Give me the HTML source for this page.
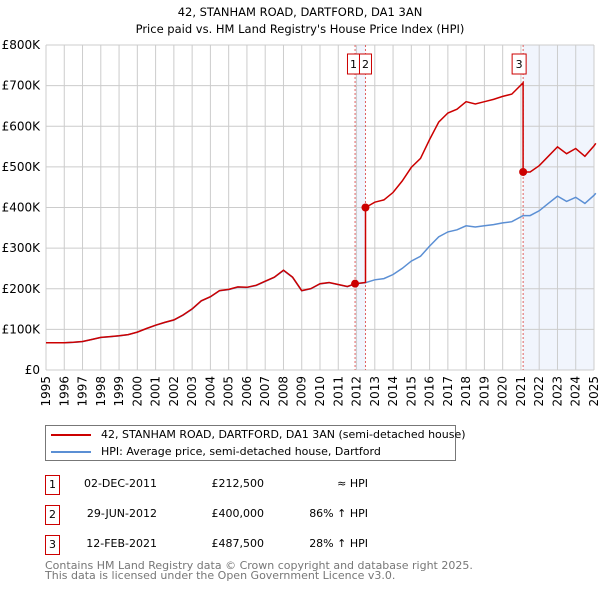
<!DOCTYPE html>
<html><head><meta charset="utf-8"><style>
body{margin:0;background:#fff;font-family:"DejaVu Sans","Liberation Sans",sans-serif;}
svg text{font-family:"DejaVu Sans","Liberation Sans",sans-serif;}
.r{position:absolute;white-space:nowrap;text-align:right;width:100px}
</style></head><body>
<svg id="c" width="600" height="590" xmlns="http://www.w3.org/2000/svg"></svg>
<script>
const hpiYears=[1995,1995.5,1996,1996.5,1997,1997.5,1998,1998.5,1999,1999.5,2000,2000.5,2001,2001.5,2002,2002.5,2003,2003.5,2004,2004.5,2005,2005.5,2006,2006.5,2007,2007.5,2008,2008.5,2009,2009.5,2010,2010.5,2011,2011.5,2011.92,2012.49,2013,2013.5,2014,2014.5,2015,2015.5,2016,2016.5,2017,2017.5,2018,2018.5,2019,2019.5,2020,2020.5,2021.12,2021.5,2022,2022.5,2023,2023.5,2024,2024.5,2025,2025.1];
const hpiValues=[67,67,67,68,70,75,80,82,84,87,93,102,110,117,123,135,150,170,180,195,198,204,203,208,218,228,245,228,195,200,212,215,210,205,212,215,222,225,235,250,268,280,305,328,340,345,355,352,355,358,362,365,380,380,392,410,428,415,425,410,430,435];
const saleDates=[2011.92,2012.49,2021.12];
const salePrices=[212500,400000,487500];
const saleLabels=["1","2","3"];
const yTicks=[0,100,200,300,400,500,600,700,800];
const yTickLabels=["£0","£100K","£200K","£300K","£400K","£500K","£600K","£700K","£800K"];
const xYears=[1995,1996,1997,1998,1999,2000,2001,2002,2003,2004,2005,2006,2007,2008,2009,2010,2011,2012,2013,2014,2015,2016,2017,2018,2019,2020,2021,2022,2023,2024,2025];

const NS="http://www.w3.org/2000/svg";
const svg=document.getElementById('c');
const L=46,R=594,T=45,B=370;
const xs=y=>L+(y-1995)/30*(R-L);
const ys=v=>B-v/800*(B-T);
function mk(tag,attrs,parent){const e=document.createElementNS(NS,tag);for(const k in attrs)e.setAttribute(k,attrs[k]);(parent||svg).appendChild(e);return e;}
function txt(s,attrs){const e=mk('text',attrs);e.textContent=s;return e;}

let t=txt("42, STANHAM ROAD, DARTFORD, DA1 3AN",{x:300,y:16,'text-anchor':'middle','font-size':11.5});

t=txt("Price paid vs. HM Land Registry's House Price Index (HPI)",{x:300,y:33,'text-anchor':'middle','font-size':11.5});


let sh=mk('rect',{x:xs(saleDates[0]),y:T,width:xs(saleDates[1])-xs(saleDates[0]),height:B-T,fill:'#eef3fc',opacity:0.8});

sh=mk('rect',{x:xs(saleDates[2]),y:T,width:R-xs(saleDates[2]),height:B-T,fill:'#eef3fc',opacity:0.8});


yTicks.forEach((v,i)=>{
 const g=mk('line',{x1:L,x2:R,y1:ys(v),y2:ys(v),stroke:'#cccccc','stroke-width':1});
 
 const l=txt(yTickLabels[i],{x:L-6,y:ys(v)+4,'text-anchor':'end','font-size':12});
 
});
xYears.forEach(y=>{
 const g=mk('line',{x1:xs(y),x2:xs(y),y1:T,y2:B,stroke:'#cccccc','stroke-width':1});
 
 const l=txt(String(y),{x:0,y:0,'text-anchor':'end','font-size':12,transform:`translate(${xs(y)+4},${B+6}) rotate(-90)`});
 
});

saleDates.forEach(d=>{
 const v=mk('line',{x1:xs(d),x2:xs(d),y1:T,y2:B,stroke:'#e06060','stroke-width':1,'stroke-dasharray':'2,2'});
 
});

function hpiAt(d){for(let i=0;i<hpiYears.length-1;i++){if(d>=hpiYears[i]&&d<=hpiYears[i+1]){const f=(d-hpiYears[i])/(hpiYears[i+1]-hpiYears[i]);return hpiValues[i]+f*(hpiValues[i+1]-hpiValues[i]);}}return hpiValues[hpiValues.length-1];}

let p=hpiYears.map((y,i)=>`${i?'L':'M'}${xs(y).toFixed(1)},${ys(hpiValues[i]).toFixed(1)}`).join('');
let hl=mk('path',{d:p,fill:'none',stroke:'#5b8fd4','stroke-width':1.5});


const pts=[];
const factor=d=>{let k=0;for(let i=0;i<saleDates.length;i++)if(d>=saleDates[i])k=i;const base=d<saleDates[0]?0:k;return salePrices[base]/1000/hpiAt(saleDates[base]);};
hpiYears.forEach((y,i)=>{
 saleDates.forEach((sd,j)=>{const prev=i>0?hpiYears[i-1]:-1;if(sd>prev&&sd<y){pts.push([sd-0.001,hpiAt(sd)*(j==0?salePrices[0]/1000/hpiAt(saleDates[0]):salePrices[j-1]/1000/hpiAt(saleDates[j-1]))]);pts.push([sd,salePrices[j]/1000]);}});
 if(saleDates.includes(y)){const j=saleDates.indexOf(y);const pf=j==0?salePrices[0]/1000/hpiAt(saleDates[0]):salePrices[j-1]/1000/hpiAt(saleDates[j-1]);pts.push([y,hpiValues[i]*pf]);}
 pts.push([y,hpiValues[i]*factor(y)]);
});
p=pts.map((q,i)=>`${i?'L':'M'}${xs(q[0]).toFixed(1)},${ys(q[1]).toFixed(1)}`).join('');
let pl=mk('path',{d:p,fill:'none',stroke:'#cc0000','stroke-width':1.5});


const box2x=xs(saleDates[1])-6;
saleDates.forEach((d,i)=>{
 const c=mk('circle',{cx:xs(d),cy:ys(salePrices[i]/1000),r:4,fill:'#cc0000'});
 
 const bx=i==0?box2x-12:(i==1?box2x:xs(d)-11);
 const bw=i==2?14:12;
 const r=mk('rect',{x:bx,y:54,width:bw,height:20,fill:'#fff',stroke:'#cc0000','stroke-width':1});
 
 const l=txt(saleLabels[i],{x:bx+bw/2,y:68,'text-anchor':'middle','font-size':11});
 
});
</script>
<div style="position:absolute;left:45px;top:425px;width:409px;height:34px;border:1px solid #777;font-size:11px;">
 <div style="position:absolute;left:5px;top:2px;white-space:nowrap"><span style="display:inline-block;width:40px;height:2px;background:#cc0000;vertical-align:middle;margin-right:10px"></span>42, STANHAM ROAD, DARTFORD, DA1 3AN (semi-detached house)</div>
 <div style="position:absolute;left:5px;top:19px;white-space:nowrap"><span style="display:inline-block;width:40px;height:2px;background:#5b8fd4;vertical-align:middle;margin-right:10px"></span>HPI: Average price, semi-detached house, Dartford</div>
</div>
<div style="font-size:11px">
 <div>
  <div style="position:absolute;left:45px;top:475px;width:13px;height:18px;border:1px solid #cc0000;text-align:center;line-height:17px">1</div>
  <div class="r" style="left:57px;top:477px">02-DEC-2011</div>
  <div class="r" style="left:164px;top:477px">£212,500</div>
  <div class="r" style="left:268px;top:477px">≈ HPI</div>
 </div>
 <div>
  <div style="position:absolute;left:45px;top:505px;width:13px;height:18px;border:1px solid #cc0000;text-align:center;line-height:17px">2</div>
  <div class="r" style="left:57px;top:507px">29-JUN-2012</div>
  <div class="r" style="left:164px;top:507px">£400,000</div>
  <div class="r" style="left:268px;top:507px">86% ↑ HPI</div>
 </div>
 <div>
  <div style="position:absolute;left:45px;top:535px;width:13px;height:18px;border:1px solid #cc0000;text-align:center;line-height:17px">3</div>
  <div class="r" style="left:57px;top:537px">12-FEB-2021</div>
  <div class="r" style="left:164px;top:537px">£487,500</div>
  <div class="r" style="left:268px;top:537px">28% ↑ HPI</div>
 </div>
</div>
<div style="position:absolute;left:45px;top:561px;font-size:11px;color:#777;line-height:10px;white-space:nowrap">Contains HM Land Registry data © Crown copyright and database right 2025.<br>This data is licensed under the Open Government Licence v3.0.</div>
</body></html>
